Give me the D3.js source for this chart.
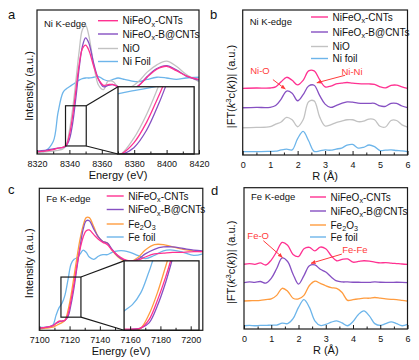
<!DOCTYPE html>
<html>
<head>
<meta charset="utf-8">
<script src="https://cdn.jsdelivr.net/npm/d3@7"></script>
<style>
  body { margin: 0; background: #fff; }
  svg { font-family: "Liberation Sans", Arial, sans-serif; }
</style>
</head>
<body>
<div class="figure"></div>
<script>
const width = 419, height = 360;

// ---- panel a : Ni K-edge XANES (normalised) ----
const niEnergy = [8320, 8325, 8330, 8333, 8336, 8338, 8340, 8342, 8344, 8346, 8348, 8350, 8352, 8355, 8358, 8361, 8364, 8367, 8370, 8374, 8378, 8383, 8388, 8394, 8400, 8406, 8412, 8420];
const niCnts  = [0.01, 0.02, 0.04, 0.06, 0.07, 0.1, 0.24, 0.5, 0.85, 1.2, 1.42, 1.47, 1.4, 1.18, 1.0, 0.92, 0.93, 0.93, 0.9, 0.87, 0.86, 0.92, 1.03, 1.14, 1.18, 1.12, 1.05, 1.0];
const niBCnts = [0.02, 0.03, 0.05, 0.06, 0.07, 0.09, 0.18, 0.4, 0.75, 1.15, 1.45, 1.57, 1.5, 1.22, 1.0, 0.9, 0.92, 0.93, 0.9, 0.86, 0.85, 0.92, 1.04, 1.15, 1.19, 1.13, 1.05, 0.99];
const niO     = [0.0, 0.01, 0.02, 0.03, 0.05, 0.1, 0.3, 0.6, 0.98, 1.38, 1.68, 1.74, 1.6, 1.2, 0.92, 0.86, 0.98, 0.97, 0.9, 0.88, 0.9, 0.98, 1.1, 1.2, 1.25, 1.18, 1.07, 0.97];
const niFoil  = [0.01, 0.02, 0.15, 0.55, 0.82, 0.87, 0.9, 0.93, 0.96, 0.99, 1.01, 1.02, 1.02, 1.03, 1.04, 1.0, 0.98, 1.0, 1.02, 1.0, 0.98, 0.97, 1.0, 1.03, 1.02, 1.0, 1.02, 1.03];
const niLabels = ['NiFeO_x-CNTs', 'NiFeO_x-B@CNTs', 'NiO', 'Ni Foil'];

// ---- panel b : Ni K-edge FT-EXAFS (stacked) ----
const rGridB = [0, 0.5, 1.0, 1.2, 1.4, 1.6, 1.8, 2.0, 2.2, 2.4, 2.6, 2.8, 3.0, 3.2, 3.4, 3.6, 3.8, 4.0, 4.2, 4.4, 4.6, 4.8, 5.0, 5.2, 5.4, 5.6, 5.8, 6.0];
const ftNiCnts  = [0, 0.02, 0.02, 0.1, 0.45, 0.76, 0.55, 0.23, 0.55, 1.2, 1.2, 0.6, 0.1, 0.15, 0.3, 0.35, 0.4, 0.35, 0.32, 0.3, 0.3, 0.27, 0.1, 0.03, 0.2, 0.22, 0.1, 0];
const ftNiBCnts = [0, 0.02, 0.03, 0.15, 0.6, 1.15, 1.0, 0.48, 0.9, 1.5, 1.55, 0.85, 0.25, 0.02, 0.15, 0.3, 0.4, 0.38, 0.32, 0.3, 0.3, 0.3, 0.12, 0.1, 0.3, 0.3, 0.12, 0];
const ftNiO     = [0, 0.02, 0.07, 0.25, 0.4, 0.72, 0.55, 0.07, 0.55, 1.8, 1.85, 0.75, 0.12, 0.2, 0.35, 0.45, 0.55, 0.55, 0.42, 0.45, 0.6, 0.55, 0.1, 0.05, 0.5, 0.5, 0.2, 0.05];
const ftNiFoil  = [0, 0, 0.02, 0.03, 0.12, 0.17, 0.12, 0.9, 1.4, 0.75, 0.02, 0.05, 0.12, 0.1, 0.18, 0.25, 0.45, 0.5, 0.25, 0.3, 0.46, 0.35, 0.08, 0.1, 0.12, 0.08, 0.05, 0];
const offsetsB = [4.6, 3.26, 1.88, 0.23];
const ftNiLabels = ['NiFeO_x-CNTs', 'NiFeO_x-B@CNTs', 'NiO', 'Ni foil'];

// ---- panel c : Fe K-edge XANES ----
const feEnergy = [7100, 7105, 7109, 7111, 7113, 7115, 7117, 7119, 7121, 7123, 7125, 7127, 7129, 7131, 7133, 7136, 7139, 7142, 7145, 7148, 7152, 7156, 7160, 7165, 7170, 7176, 7182, 7188, 7195, 7202, 7208];
const feCnts  = [0.02, 0.03, 0.05, 0.08, 0.11, 0.11, 0.12, 0.2, 0.38, 0.6, 0.85, 1.05, 1.2, 1.28, 1.29, 1.23, 1.17, 1.13, 1.1, 1.03, 0.96, 0.91, 0.89, 0.9, 0.94, 0.98, 0.99, 1.0, 1.0, 1.01, 1.01];
const feBCnts = [0.02, 0.03, 0.05, 0.08, 0.1, 0.11, 0.12, 0.17, 0.33, 0.55, 0.82, 1.08, 1.3, 1.41, 1.41, 1.3, 1.2, 1.14, 1.12, 1.04, 0.95, 0.9, 0.88, 0.91, 0.98, 1.04, 1.07, 1.07, 1.05, 1.03, 1.02];
const fe2o3   = [0.01, 0.02, 0.03, 0.05, 0.07, 0.09, 0.12, 0.25, 0.45, 0.7, 0.95, 1.18, 1.35, 1.45, 1.45, 1.33, 1.2, 1.14, 1.12, 1.03, 0.94, 0.89, 0.88, 0.93, 1.03, 1.1, 1.1, 1.07, 1.04, 1.02, 1.01];
const feFoil  = [0.03, 0.03, 0.06, 0.18, 0.28, 0.34, 0.45, 0.65, 0.85, 0.91, 0.93, 0.98, 1.03, 1.0, 0.94, 0.91, 0.95, 0.97, 0.97, 1.0, 1.02, 1.02, 1.0, 0.96, 0.92, 0.96, 1.02, 1.03, 1.0, 0.96, 0.98];
const feLabels = ['NiFeO_x-CNTs', 'NiFeO_x-B@CNTs', 'Fe_2O_3', 'Fe foil'];

// ---- panel d : Fe K-edge FT-EXAFS ----
const rGridD = [0, 0.2, 0.4, 0.6, 0.8, 1.0, 1.2, 1.4, 1.6, 1.8, 2.0, 2.2, 2.4, 2.6, 2.8, 3.0, 3.2, 3.4, 3.6, 3.8, 4.0, 4.2, 4.4, 4.6, 4.8, 5.0, 5.2, 5.4, 5.6, 5.8, 6.0];
const ftFeCnts  = [0, 0.05, 0.0, 0.1, -0.05, 0.3, 0.9, 1.55, 1.35, 0.7, 0.55, 1.1, 1.2, 0.95, 1.22, 1.1, 0.6, 0.25, 0.35, 0.38, 0.15, 0.2, 0.25, 0.22, 0.15, 0.1, 0.12, 0.08, 0.05, 0.02, 0];
const ftFeBCnts = [0, 0.05, 0.02, 0.08, -0.03, 0.3, 1.0, 1.75, 1.5, 0.6, -0.1, 0.5, 1.2, 1.25, 0.95, 0.75, 0.4, 0.12, 0.05, 0.05, 0.03, 0.03, 0.02, 0.02, 0.05, 0.03, 0.02, 0.02, 0.03, 0.02, 0];
const ftFe2o3   = [0, 0.02, 0.03, 0.05, 0.1, 0.15, 0.4, 0.9, 0.7, 0.2, 0.15, 0.4, 1.1, 1.4, 1.25, 1.08, 0.95, 0.9, 0.6, 0.05, 0.1, 0.15, 0.2, 0.2, 0.25, 0.2, 0.15, 0.12, 0.1, 0.05, 0];
const ftFeFoil  = [0, 0.02, 0.0, 0.03, 0.02, 0.05, 0.05, 0.18, 0.15, 0.5, 1.3, 1.85, 1.3, 0.35, 0.02, 0.1, 0.25, 0.35, 0.2, 0.0, 0.3, 0.8, 1.05, 0.7, 0.15, 0.02, 0.15, 0.28, 0.15, 0.0, 0.1];
const offsetsD = [4.58, 3.28, 1.98, 0.23];

// ticks
const niTicks = [8320, 8340, 8360, 8380, 8400, 8420];
const feTicks = [7100, 7120, 7140, 7160, 7180, 7200];
const rTicks = [0, 1, 2, 3, 4, 5, 6];

// colours
const pink = '#ff3191', purple = '#8650c2', grey = '#c2c2c2', blue = '#6db5ea', orange = '#ff9c3f';
const red = '#ff3b3b', ink = '#1a1a1a';

const svg = d3.select('.figure').append('svg')
    .attr('width', width)
    .attr('height', height);
const defs = svg.append('defs');

defs.append('marker')
    .attr('id', 'arrow')
    .attr('viewBox', '0 0 10 10')
    .attr('refX', 9).attr('refY', 5)
    .attr('markerWidth', 5).attr('markerHeight', 5)
    .attr('orient', 'auto')
    .append('path').attr('d', 'M0,1 L10,5 L0,9 z').attr('fill', red);

const curve = d3.curveCatmullRom.alpha(0.5);

// text with _x subscripts
function richText(text, str) {
    let shift = 0;
    str.split(/(_.)/).filter(s => s).forEach(s => {
        const sub = s[0] === '_' && s.length === 2;
        const t = text.append('tspan').text(sub ? s[1] : s);
        const target = sub ? 2.5 : 0;
        if (target !== shift) { t.attr('dy', target - shift); shift = target; }
        if (sub) t.attr('font-size', '0.72em');
    });
}

function makePanel(id, box, xDomain, yDomain) {
    const x = d3.scaleLinear().domain(xDomain).range([box.left, box.right]);
    const y = d3.scaleLinear().domain(yDomain).range([box.bottom, box.top]);
    defs.append('clipPath').attr('id', id).append('rect')
        .attr('x', box.left).attr('y', box.top)
        .attr('width', box.right - box.left).attr('height', box.bottom - box.top);
    const g = svg.append('g').attr('clip-path', `url(#${id})`);
    return { x, y, g, box };
}

function drawLines(g, xs, series, x, y) {
    const line = d3.line().x(d => x(d[0])).y(d => y(d[1])).curve(curve);
    series.forEach(s => {
        g.append('path')
            .datum(xs.map((v, i) => [v, s.values[i] + (s.offset || 0)]))
            .attr('d', line)
            .attr('fill', 'none')
            .attr('stroke', s.color)
            .attr('stroke-width', 1.3);
    });
}

function drawAxes(p, majors, minorStep, xTitle, yTitle, yTitleX) {
    const b = p.box;
    const fmt = d3.format('d');
    const minors = d3.range(p.x.domain()[0], p.x.domain()[1] + 1e-9, minorStep)
        .filter(v => !majors.includes(+v.toFixed(3)));

    svg.append('g')
        .attr('transform', `translate(0,${b.bottom})`)
        .call(d3.axisBottom(p.x).tickValues(minors).tickSizeInner(-2.5).tickSizeOuter(0).tickFormat(''))
        .call(g => g.select('.domain').remove())
        .call(g => g.selectAll('line').attr('stroke', ink));

    svg.append('g')
        .attr('transform', `translate(0,${b.bottom})`)
        .call(d3.axisBottom(p.x).tickValues(majors).tickSizeInner(-4).tickSizeOuter(0).tickPadding(6.5).tickFormat(fmt))
        .attr('font-family', null)
        .attr('font-size', 9)
        .call(g => g.select('.domain').remove())
        .call(g => g.selectAll('line').attr('stroke', ink))
        .call(g => g.selectAll('text').attr('fill', '#111'));

    svg.append('rect')
        .attr('x', b.left).attr('y', b.top)
        .attr('width', b.right - b.left).attr('height', b.bottom - b.top)
        .attr('fill', 'none').attr('stroke', ink).attr('stroke-width', 1.2);

    svg.append('text')
        .attr('x', (b.left + b.right) / 2).attr('y', b.bottom + 25)
        .attr('text-anchor', 'middle').attr('font-size', 11).attr('fill', '#111')
        .text(xTitle);

    const yt = svg.append('text')
        .attr('transform', `translate(${yTitleX},${(b.top + b.bottom) / 2 + 4}) rotate(-90)`)
        .attr('text-anchor', 'middle').attr('dy', '0.35em')
        .attr('font-size', 11).attr('fill', '#111');
    yTitle(yt);
}

function drawLegend(x0, rows, len, series, labels) {
    series.forEach((s, i) => {
        svg.append('line')
            .attr('x1', x0).attr('x2', x0 + len)
            .attr('y1', rows[i]).attr('y2', rows[i])
            .attr('stroke', s.color).attr('stroke-width', 1.4);
        const t = svg.append('text')
            .attr('x', x0 + len + 4.5).attr('y', rows[i]).attr('dy', '0.35em')
            .attr('font-size', 10).attr('fill', '#111');
        richText(t, labels[i]);
    });
}

function edgeLabel(p, text, baseline) {
    svg.append('text')
        .attr('x', p.box.left + 7).attr('y', baseline)
        .attr('font-size', 9.5).attr('fill', '#111')
        .text(text);
}

function panelLetter(x, y, letter) {
    svg.append('text').attr('x', x).attr('y', y)
        .attr('font-size', 13).attr('fill', '#111').text(letter);
}

// zoom box + magnified inset
function drawInset(p, xs, series, small, big, insetX, insetY, id) {
    const sx = [p.x(small.x[0]), p.x(small.x[1])];
    const sy = [p.y(small.y[1]), p.y(small.y[0])];
    const bx = [p.x(big.x[0]), p.x(big.x[1])];
    const by = [p.y(big.y[1]), p.box.bottom];

    svg.append('rect')
        .attr('x', sx[0]).attr('y', sy[0])
        .attr('width', sx[1] - sx[0]).attr('height', sy[1] - sy[0])
        .attr('fill', 'none').attr('stroke', ink).attr('stroke-width', 1.2);

    svg.append('line').attr('x1', sx[1]).attr('y1', sy[0]).attr('x2', bx[0]).attr('y2', by[0])
        .attr('stroke', ink).attr('stroke-width', 1.2);
    svg.append('line').attr('x1', sx[1]).attr('y1', sy[1]).attr('x2', bx[0]).attr('y2', by[1])
        .attr('stroke', ink).attr('stroke-width', 1.2);

    svg.append('rect')
        .attr('x', bx[0]).attr('y', by[0])
        .attr('width', bx[1] - bx[0]).attr('height', by[1] - by[0])
        .attr('fill', '#fff');

    const ix = d3.scaleLinear().domain(insetX).range(bx);
    const iy = d3.scaleLinear().domain(insetY).range([by[1], by[0]]);
    defs.append('clipPath').attr('id', id).append('rect')
        .attr('x', bx[0]).attr('y', by[0])
        .attr('width', bx[1] - bx[0]).attr('height', by[1] - by[0]);
    const g = svg.append('g').attr('clip-path', `url(#${id})`);
    drawLines(g, xs, series, ix, iy);

    svg.append('rect')
        .attr('x', bx[0]).attr('y', by[0])
        .attr('width', bx[1] - bx[0]).attr('height', by[1] - by[0])
        .attr('fill', 'none').attr('stroke', ink).attr('stroke-width', 1.3);
}

function annotate(p, label, textAt, from, to) {
    svg.append('text')
        .attr('x', p.x(textAt[0])).attr('y', p.y(textAt[1])).attr('dy', '0.35em')
        .attr('text-anchor', 'middle').attr('font-size', 9.5).attr('fill', red)
        .text(label);
    svg.append('line')
        .attr('x1', p.x(from[0])).attr('y1', p.y(from[1]))
        .attr('x2', p.x(to[0])).attr('y2', p.y(to[1]))
        .attr('stroke', red).attr('stroke-width', 1)
        .attr('marker-end', 'url(#arrow)');
}

function ftTitle(t) {
    t.append('tspan').text('|FT(');
    t.append('tspan').attr('font-style', 'italic').text('k');
    t.append('tspan').attr('font-size', '0.7em').attr('dy', -4).text('3');
    t.append('tspan').attr('dy', 4).text('c(');
    t.append('tspan').attr('font-style', 'italic').text('k');
    t.append('tspan').text('))| (a.u.)');
}

// ---------- a ----------
const pa = makePanel('clipA', { left: 37, right: 199, top: 10, bottom: 154 }, [8320, 8420], [-0.02, 1.95]);
const seriesA = [
    { values: niFoil, color: blue },
    { values: niO, color: grey },
    { values: niBCnts, color: purple },
    { values: niCnts, color: pink }
];
drawLines(pa.g, niEnergy, seriesA, pa.x, pa.y);
drawInset(pa, niEnergy, seriesA,
    { x: [8337.6, 8350.4], y: [0.09, 0.64] },
    { x: [8370, 8417], y: [0, 0.9] },
    [8337.5, 8349.5], [0.1, 0.95], 'clipA2');
drawAxes(pa, niTicks, 10, 'Energy (eV)', t => t.text('Intensity (a.u.)'), 29);
drawLegend(98, [20.7, 34, 48.5, 61.5], 20, seriesA.slice().reverse(), niLabels);
edgeLabel(pa, 'Ni K-edge', 26.5);
panelLetter(8, 18.5, 'a');

// ---------- b ----------
const pb = makePanel('clipB', { left: 242.7, right: 407.5, top: 10, bottom: 155 }, [0, 6], [0, 10]);
const seriesB = [
    { values: ftNiFoil, color: blue, offset: offsetsB[3] },
    { values: ftNiO, color: grey, offset: offsetsB[2] },
    { values: ftNiBCnts, color: purple, offset: offsetsB[1] },
    { values: ftNiCnts, color: pink, offset: offsetsB[0] }
];
drawLines(pb.g, rGridB, seriesB, pb.x, pb.y);
drawAxes(pb, rTicks, 0.5, 'R (Å)', ftTitle, 231);
drawLegend(311, [17, 32, 46.5, 58.5], 17, seriesB.slice().reverse(), ftNiLabels);
edgeLabel(pb, 'Ni K-edge', 25);
annotate(pb, 'Ni-O', [0.63, 5.79], [1.1, 5.2], [1.55, 4.55]);
annotate(pb, 'Ni-Ni', [3.98, 5.76], [3.73, 5.5], [2.7, 4.98]);
panelLetter(210, 18.5, 'b');

// ---------- c ----------
const pc = makePanel('clipC', { left: 39.3, right: 202.8, top: 188.3, bottom: 330.3 }, [7100, 7208], [-0.01, 1.83]);
const seriesC = [
    { values: feFoil, color: blue },
    { values: fe2o3, color: orange },
    { values: feBCnts, color: purple },
    { values: feCnts, color: pink }
];
drawLines(pc.g, feEnergy, seriesC, pc.x, pc.y);
drawInset(pc, feEnergy, seriesC,
    { x: [7114.3, 7127.5], y: [0.16, 0.68] },
    { x: [7156, 7205.5], y: [0, 0.89] },
    [7113, 7131], [0.1, 0.75], 'clipC2');
drawAxes(pc, feTicks, 10, 'Energy (eV)', t => t.text('Intensity (a.u.)'), 29);
drawLegend(106.7, [196, 209.5, 224, 237], 17, seriesC.slice().reverse(), feLabels);
edgeLabel(pc, 'Fe K-edge', 202);
panelLetter(8, 194, 'c');

// ---------- d ----------
const pd = makePanel('clipD', { left: 244, right: 407.5, top: 187.7, bottom: 329 }, [0, 6], [0, 10]);
const seriesD = [
    { values: ftFeFoil, color: blue, offset: offsetsD[3] },
    { values: ftFe2o3, color: orange, offset: offsetsD[2] },
    { values: ftFeBCnts, color: purple, offset: offsetsD[1] },
    { values: ftFeCnts, color: pink, offset: offsetsD[0] }
];
drawLines(pd.g, rGridD, seriesD, pd.x, pd.y);
drawAxes(pd, rTicks, 0.5, 'R (Å)', ftTitle, 231);
drawLegend(310, [197, 211, 225, 237], 16, seriesD.slice().reverse(), feLabels);
edgeLabel(pd, 'Fe K-edge', 200);
annotate(pd, 'Fe-O', [0.52, 6.58], [0.71, 6.25], [1.41, 5.07]);
annotate(pd, 'Fe-Fe', [4.07, 5.64], [3.59, 5.3], [2.46, 4.65]);
panelLetter(211, 195, 'd');
</script>
</body>
</html>
